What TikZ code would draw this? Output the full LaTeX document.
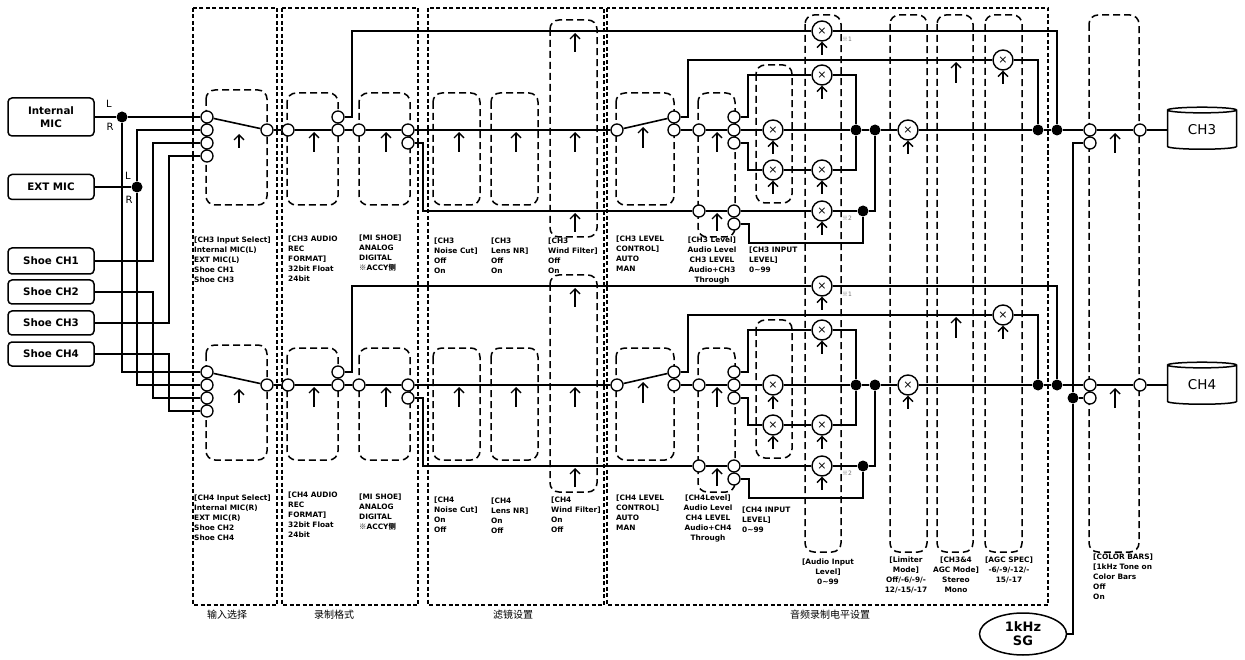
\documentclass[tikz,border=0pt]{standalone}
\usepackage{fontspec}
\setmainfont{DejaVu Sans}
\newfontfamily\cjk{Noto Sans CJK SC}
\usetikzlibrary{arrows.meta,shapes.geometric}

\tikzset{
  port/.style={circle, draw, fill=white, line width=1.3pt, inner sep=0, minimum size=12pt},
  mult/.style={circle, draw, fill=white, line width=1.4pt, inner sep=0, minimum size=20pt, font=\fontsize{11}{11}\selectfont},
  jdot/.style={circle, fill=black, inner sep=0, minimum size=11pt},
  wire/.style={line width=1.6pt},
  selbox/.style={line width=1.5pt, dash pattern=on 7pt off 4pt, rounded corners=9pt},
  group/.style={line width=1.3pt, dash pattern=on 4pt off 2.5pt},
  uparr/.style={line width=1.4pt, -{Straight Barb[length=5pt,width=10pt]}},
  srcbox/.style={draw, rounded corners=4pt, line width=1.5pt, minimum width=86pt, inner sep=0, align=center, font=\fontsize{10.3}{12.5}\selectfont\bfseries},
  recdb/.style={cylinder, shape border rotate=90, draw, fill=white, line width=1.5pt, aspect=0.2, minimum width=69pt, minimum height=42pt, inner sep=0, font=\fontsize{13.5}{14}\selectfont},
  lbl/.style={font=\fontsize{7.4}{10}\selectfont\bfseries, align=left, anchor=north west, inner sep=0},
  clbl/.style={lbl, align=center, anchor=north},
  note/.style={anchor=west, inner sep=0, text=black!55, font=\fontsize{6}{6}\selectfont},
  grp/.style={font=\cjk\fontsize{10}{12}\selectfont},
  lr/.style={inner sep=0, font=\fontsize{10}{10}\selectfont},
}

\begin{document}
\begin{tikzpicture}[x=1pt,y=-1pt]
\fill[white] (0,0) rectangle (1245,660);

% Groups
\draw[group] (193,8) rectangle (277,605);
\draw[group] (282,8) rectangle (418,605);
\draw[group] (428,8) rectangle (604,605);
\draw[group] (607,8) rectangle (1048,605);
\node[grp] (g1) at (227,615) {输入选择};
\node[grp] (g2) at (334,615) {录制格式};
\node[grp] (g3) at (513,615) {滤镜设置};
\node[grp] (g4) at (830,615) {音频录制电平设置};

% Shared columns
\draw[selbox] (805,15) rectangle (841,552);
\draw[selbox] (890,15) rectangle (927,552);
\draw[selbox] (937,15) rectangle (973,552);
\draw[selbox] (985,15) rectangle (1022,552);
\draw[selbox] (1089,15) rectangle (1139,552);

% Channels
\foreach \c/\dy in {3/0,4/255}{
  \draw[selbox] (206,90+\dy) rectangle (267,205+\dy);
  \draw[selbox] (287,93+\dy) rectangle (338,205+\dy);
  \draw[selbox] (359,93+\dy) rectangle (410,205+\dy);
  \draw[selbox] (433,93+\dy) rectangle (480,205+\dy);
  \draw[selbox] (491,93+\dy) rectangle (538,205+\dy);
  \draw[selbox] (550,20+\dy) rectangle (597,237+\dy);
  \draw[selbox] (616,93+\dy) rectangle (674,205+\dy);
  \draw[selbox] (698,93+\dy) rectangle (735,237+\dy);
  \draw[selbox] (756,65+\dy) rectangle (792,203+\dy);

  % Ports
  \node[port] (ia\c) at (207,117+\dy) {};
  \node[port] (ib\c) at (207,130+\dy) {};
  \node[port] (ic\c) at (207,143+\dy) {};
  \node[port] (id\c) at (207,156+\dy) {};
  \node[port] (so\c) at (267,130+\dy) {};
  \node[port] (fi\c) at (288,130+\dy) {};
  \node[port] (fa\c) at (338,117+\dy) {};
  \node[port] (fb\c) at (338,130+\dy) {};
  \node[port] (hi\c) at (359,130+\dy) {};
  \node[port] (ha\c) at (408,130+\dy) {};
  \node[port] (hb\c) at (408,143+\dy) {};
  \node[port] (ci\c) at (617,130+\dy) {};
  \node[port] (ca\c) at (674,117+\dy) {};
  \node[port] (cb\c) at (674,130+\dy) {};
  \node[port] (li\c) at (699,130+\dy) {};
  \node[port] (la\c) at (734,117+\dy) {};
  \node[port] (lb\c) at (734,130+\dy) {};
  \node[port] (lc\c) at (734,143+\dy) {};
  \node[port] (ki\c) at (699,211+\dy) {};
  \node[port] (ka\c) at (734,211+\dy) {};
  \node[port] (kb\c) at (734,224+\dy) {};
  \node[port] (ba\c) at (1090,130+\dy) {};
  \node[port] (bb\c) at (1090,143+\dy) {};
  \node[port] (bo\c) at (1140,130+\dy) {};

  % Multipliers
  \node[mult] (xa\c) at (822,31+\dy) {×};
  \node[mult] (xb\c) at (822,75+\dy) {×};
  \node[mult] (xc\c) at (773,130+\dy) {×};
  \node[mult] (xd\c) at (773,170+\dy) {×};
  \node[mult] (xe\c) at (822,170+\dy) {×};
  \node[mult] (xf\c) at (822,211+\dy) {×};
  \node[mult] (xg\c) at (908,130+\dy) {×};
  \node[mult] (xh\c) at (1003,60+\dy) {×};
  \node[note] (na\c) at (842,39+\dy) {{\cjk ※}1};
  \node[note] (nb\c) at (842,218+\dy) {{\cjk ※}2};

  % Joints
  \node[jdot] (da\c) at (856,130+\dy) {};
  \node[jdot] (db\c) at (875,130+\dy) {};
  \node[jdot] (dc\c) at (863,211+\dy) {};
  \node[jdot] (dd\c) at (1038,130+\dy) {};
  \node[jdot] (de\c) at (1057,130+\dy) {};

  \node[recdb] (rec\c) at (1202,130+\dy) {CH\c};

  % Wires
  \draw[wire] (so\c) -- (fi\c) -- (fb\c) -- (hi\c) -- (ha\c) -- (ci\c) -- (ca\c);
  \draw[wire] (cb\c) -- (li\c) -- (lb\c) -- (xc\c) -- (da\c) -- (db\c) -- (xg\c) -- (dd\c) -- (de\c) -- (ba\c) -- (bo\c) -- (rec\c);
  \draw[wire] (ia\c) -- (so\c);
  \draw[wire] (fa\c) -- ++(14,0) |- (xa\c);
  \draw[wire] (xa\c) -| (de\c);
  \draw[wire] (ca\c) -- ++(14,0) |- (xh\c);
  \draw[wire] (xh\c) -| (dd\c);
  \draw[wire] (la\c) -- ++(14,0) |- (xb\c);
  \draw[wire] (xb\c) -| (da\c);
  \draw[wire] (lc\c) -- ++(14,0) |- (xd\c);
  \draw[wire] (xd\c) -- (xe\c);
  \draw[wire] (xe\c) -| (da\c);
  \draw[wire] (hb\c) -- ++(15,0) |- (ki\c);
  \draw[wire] (ki\c) -- (ka\c) -- (xf\c) -- (dc\c);
  \draw[wire] (dc\c) -| (db\c);
  \draw[wire] (kb\c) -- ++(15,0) -- ++(0,19) -| (dc\c);

  % Selector arrows
  \draw[uparr] (239,148+\dy) -- (239,134+\dy);
  \draw[uparr] (314,152+\dy) -- (314,132+\dy);
  \draw[uparr] (386,152+\dy) -- (386,132+\dy);
  \draw[uparr] (459,152+\dy) -- (459,132+\dy);
  \draw[uparr] (516,152+\dy) -- (516,132+\dy);
  \draw[uparr] (575,52+\dy) -- (575,33+\dy);
  \draw[uparr] (575,152+\dy) -- (575,132+\dy);
  \draw[uparr] (575,232+\dy) -- (575,213+\dy);
  \draw[uparr] (643,148+\dy) -- (643,127+\dy);
  \draw[uparr] (717,152+\dy) -- (717,132+\dy);
  \draw[uparr] (717,231+\dy) -- (717,213+\dy);
  \draw[uparr] (956,83+\dy) -- (956,62+\dy);
  \draw[uparr] (1115,153+\dy) -- (1115,133+\dy);
  \foreach \m in {xa,xb,xc,xd,xe,xf,xg,xh}
    \draw[uparr] ([yshift=-13pt]\m\c.south) -- (\m\c.south);
}

% Sources
\node[srcbox, minimum height=38pt] (imic) at (51,117) {Internal\\MIC};
\node[srcbox, minimum height=25pt] (emic) at (51,187) {EXT MIC};
\node[srcbox, minimum height=26pt] (shoe1) at (51,261) {Shoe CH1};
\node[srcbox, minimum height=24pt] (shoe2) at (51,292) {Shoe CH2};
\node[srcbox, minimum height=24pt] (shoe3) at (51,323) {Shoe CH3};
\node[srcbox, minimum height=24pt] (shoe4) at (51,354) {Shoe CH4};
\node[jdot] (mdot) at (122,117) {};
\node[jdot] (edot) at (137,187) {};
\node[lr] (ml) at (109,104) {L};
\node[lr] (mr) at (110,127) {R};
\node[lr] (el) at (128,176) {L};
\node[lr] (er) at (129,200) {R};

\draw[wire] (imic) -- (mdot) -- (ia3);
\draw[wire] (mdot) |- (ia4);
\draw[wire] (emic) -- (edot);
\draw[wire] (edot) |- (ib3);
\draw[wire] (edot) |- (ib4);
\draw[wire] (shoe1.east) -- ++(58,0) |- (ic3);
\draw[wire] (shoe2.east) -- ++(58,0) |- (ic4);
\draw[wire] (shoe3.east) -- ++(74,0) |- (id3);
\draw[wire] (shoe4.east) -- ++(74,0) |- (id4);

% Test tone
\node[ellipse, draw, line width=1.5pt, minimum width=87pt, minimum height=42pt, inner sep=0, align=center, font=\fontsize{13}{14}\selectfont\bfseries] (sg) at (1023,634) {1kHz\\SG};
\node[jdot] (sgdot) at (1073,398) {};
\draw[wire] (sg) -| (sgdot);
\draw[wire] (sgdot) |- (bb3);
\draw[wire] (sgdot) -- (bb4);

% CH3 labels
\node[lbl] (t3sel) at (194,237) {[CH3 Input Select]\\Internal MIC(L)\\EXT MIC(L)\\Shoe CH1\\Shoe CH3};
\node[lbl] (t3fmt) at (288,236) {[CH3 AUDIO\\REC\\FORMAT]\\32bit Float\\24bit};
\node[lbl] (t3shoe) at (359,235) {[MI SHOE]\\ANALOG\\DIGITAL\\{\cjk ※}ACCY{\cjk 侧}};
\node[lbl] (t3nc) at (434,238) {[CH3\\Noise Cut]\\Off\\On};
\node[lbl] (t3nr) at (491,238) {[CH3\\Lens NR]\\Off\\On};
\node[lbl] (t3wf) at (548,238) {[CH3\\Wind Filter]\\Off\\On};
\node[lbl] (t3lc) at (616,236) {[CH3 LEVEL\\CONTROL]\\AUTO\\MAN};
\node[clbl] (t3lv) at (712,237) {[CH3 Level]\\Audio Level\\CH3 LEVEL\\Audio+CH3\\Through};
\node[lbl] (t3il) at (749,247) {[CH3 INPUT\\LEVEL]\\0\textasciitilde 99};

% CH4 labels
\node[lbl] (t4sel) at (194,495) {[CH4 Input Select]\\Internal MIC(R)\\EXT MIC(R)\\Shoe CH2\\Shoe CH4};
\node[lbl] (t4fmt) at (288,492) {[CH4 AUDIO\\REC\\FORMAT]\\32bit Float\\24bit};
\node[lbl] (t4shoe) at (359,494) {[MI SHOE]\\ANALOG\\DIGITAL\\{\cjk ※}ACCY{\cjk 侧}};
\node[lbl] (t4nc) at (434,497) {[CH4\\Noise Cut]\\On\\Off};
\node[lbl] (t4nr) at (491,498) {[CH4\\Lens NR]\\On\\Off};
\node[lbl] (t4wf) at (551,497) {[CH4\\Wind Filter]\\On\\Off};
\node[lbl] (t4lc) at (616,495) {[CH4 LEVEL\\CONTROL]\\AUTO\\MAN};
\node[clbl] (t4lv) at (708,495) {[CH4Level]\\Audio Level\\CH4 LEVEL\\Audio+CH4\\Through};
\node[lbl] (t4il) at (742,507) {[CH4 INPUT\\LEVEL]\\0\textasciitilde 99};

% Shared labels
\node[clbl] (tin) at (828,559) {[Audio Input\\Level]\\0\textasciitilde 99};
\node[clbl] (tlim) at (906,557) {[Limiter\\Mode]\\Off/-6/-9/-\\12/-15/-17};
\node[clbl] (tagc) at (956,557) {[CH3\&4\\AGC Mode]\\Stereo\\Mono};
\node[clbl] (tspec) at (1009,557) {[AGC SPEC]\\-6/-9/-12/-\\15/-17};
\node[lbl] (tbar) at (1093,554) {[COLOR BARS]\\{[}1kHz Tone on\\Color Bars\\Off\\On};
\end{tikzpicture}
\end{document}
